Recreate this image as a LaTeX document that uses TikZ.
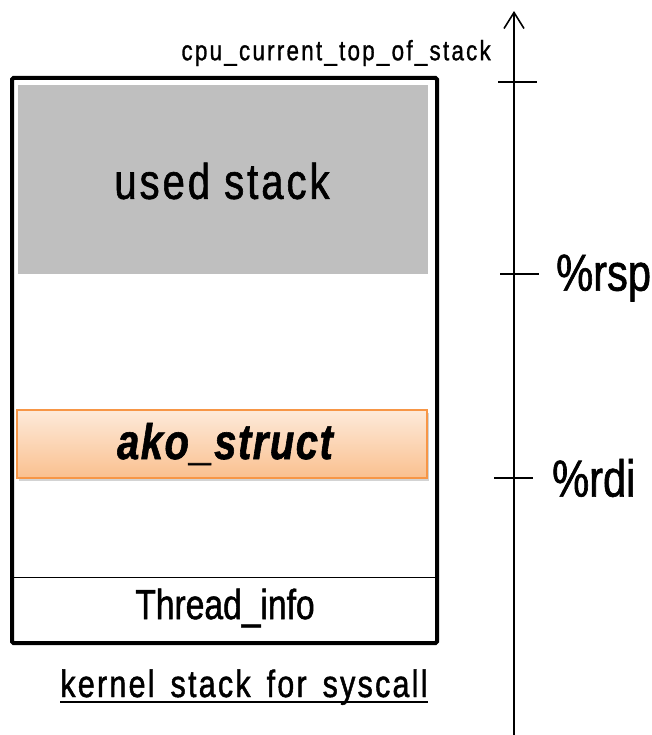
\documentclass[tikz,border=0pt]{standalone}
\usepackage{fontspec}
\setmainfont{Liberation Sans}
\newfontfamily\cf{Liberation Sans}[FakeStretch=0.8, FakeBold=1.2]
\newfontfamily\cfa{Liberation Sans}[FakeStretch=0.8, FakeBold=1.2, LetterSpace=6]
\newfontfamily\cfb{Liberation Sans}[FakeStretch=0.8, FakeBold=1, LetterSpace=8]
\newfontfamily\cfc{Liberation Sans}[FakeStretch=0.8, FakeBold=1.2, LetterSpace=3]
\newcommand\capfont{\cfa\fontsize{38}{38}\selectfont\spaceskip=16pt\relax}
\usetikzlibrary{arrows.meta,shadows}
\definecolor{usedgray}{HTML}{BFBFBF}
\definecolor{orangetop}{HTML}{FDEADA}
\definecolor{orangebot}{HTML}{FAC08F}
\definecolor{orangeedge}{HTML}{F79646}
\tikzset{
  lbl/.style={inner sep=0pt},
  tick/.style={line width=1.6pt},
}
\begin{document}
\begin{tikzpicture}[x=1pt,y=-1pt]
\useasboundingbox (0,0) rectangle (652,735);
% main stack box
\node[draw=black, line width=4pt, rounded corners=1.5pt, minimum width=425pt, minimum height=565pt, inner sep=0pt] (stack) at (224.5,360.5) {};
% used stack
\node[fill=usedgray, minimum width=410pt, minimum height=189pt, inner sep=0pt] (used) at (223,179.5) {};
\node[lbl, font=\cfa\fontsize{50}{50}\selectfont] (usedt) at (222,181) {used stack};
% ako_struct
\node[draw=orangeedge, line width=1.2pt, top color=orangetop, bottom color=orangebot, minimum width=410pt, minimum height=68pt, inner sep=0pt, drop shadow={shadow xshift=2pt, shadow yshift=-3pt, opacity=0.35}] (ako) at (222,444) {};
\node[lbl, font=\cfc\fontsize{50}{50}\selectfont\bfseries\itshape] (akot) at (225,444) {ako\_struct};
% thread_info
\node[minimum width=425pt, minimum height=65pt, inner sep=0pt] (thread) at (224.5,610.5) {};
\draw[line width=1.3pt] (stack.west |- thread.north) -- (stack.east |- thread.north);
\node[lbl, font=\cf\fontsize{42}{42}\selectfont] (threadt) at (225,608) {Thread\_info};
% caption
\node[lbl, font=\capfont, anchor=base] (cap) at (244,697) {kernel stack for syscall};
\draw[line width=1.2pt] ([yshift=-5pt]cap.base west) -- ([yshift=-5pt]cap.base east);
% axis
\coordinate (axb) at (514,735);
\coordinate (axt) at (514,11);
\draw[line width=1.6pt, -{Straight Barb[length=16pt,width=20pt,line width=1.6pt]}] (axb) -- (axt);
\coordinate (t1a) at (498,82); \coordinate (t1b) at (537,82);
\coordinate (t2a) at (500,274); \coordinate (t2b) at (539,274);
\coordinate (t3a) at (494,478); \coordinate (t3b) at (533,478);
\draw[tick] (t1a) -- (t1b);
\draw[tick] (t2a) -- (t2b);
\draw[tick] (t3a) -- (t3b);
\node[lbl, font=\cfb\fontsize{28}{28}\selectfont, anchor=east] (cpu) at (491,53) {cpu\_current\_top\_of\_stack};
\node[lbl, font=\cf\fontsize{52}{52}\selectfont, anchor=west] (rsp) at (556,278) {\%rsp};
\node[lbl, font=\cf\fontsize{52}{52}\selectfont, anchor=west] (rdi) at (552,478) {\%rdi};
\end{tikzpicture}
\end{document}
